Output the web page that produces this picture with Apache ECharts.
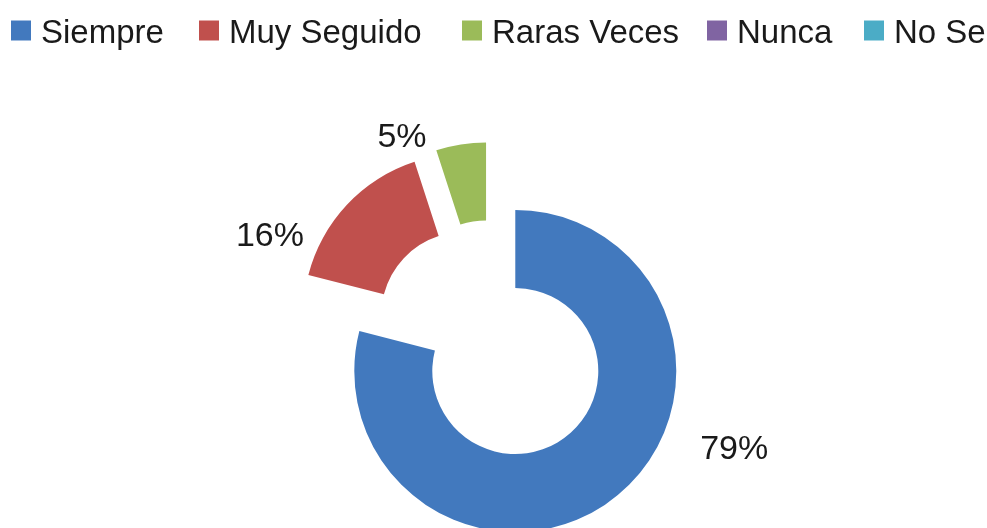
<!DOCTYPE html>
<html>
<head>
<meta charset="utf-8">
<script src="https://cdn.jsdelivr.net/npm/echarts@6/dist/echarts.min.js"></script>
<style>html,body{margin:0;padding:0;background:#fff}#c{width:987px;height:528px}</style>
</head>
<body>
<div id="c"></div>
<script>
const categories = ['Siempre', 'Muy Seguido', 'Raras Veces', 'Nunca', 'No Se'];
const values = [79, 16, 5, 0, 0];
const colors = ['#4279BE', '#C0504D', '#9BBB59', '#8064A2', '#4BACC6'];

// layout tweaks (not data)
const legendLefts = [11, 199, 462, 707, 864];
const labelShift = [[72, -60], [-27, 42], [-27, 8], [0, 0], [0, 0]];

const FONT = '"Liberation Sans", Arial, sans-serif';
const chart = echarts.init(document.getElementById('c'), null, {renderer: 'canvas'});

const legends = categories.map((name, i) => ({
  data: [name],
  left: legendLefts[i],
  top: 17,
  padding: 0,
  itemWidth: 20,
  itemHeight: 20,
  icon: 'rect',
  selectedMode: false,
  formatter: n => '{t|' + n + '}',
  textStyle: {
    fontFamily: FONT, fontSize: 33, color: '#1a1a1a',
    rich: {t: {fontFamily: FONT, fontSize: 33, color: '#1a1a1a', padding: [6, 0, 0, 5]}}
  }
}));

chart.setOption({
  animation: false,
  color: colors,
  legend: legends,
  series: [{
    type: 'pie',
    center: [492, 341],
    radius: [83, 161],
    startAngle: 90,
    clockwise: true,
    selectedMode: 'multiple',
    selectedOffset: 38,
    avoidLabelOverlap: false,
    emphasis: {disabled: true},
    label: {
      show: true,
      position: 'outside',
      fontFamily: FONT,
      fontSize: 34,
      color: '#1a1a1a',
      formatter: p => Math.round(p.percent) + '%'
    },
    labelLine: {show: false, length: 15, length2: 0},
    labelLayout: p => ({dx: labelShift[p.dataIndex][0], dy: labelShift[p.dataIndex][1]}),
    data: categories.map((name, i) => ({
      name,
      value: values[i],
      selected: values[i] > 0,
      label: {show: values[i] > 0}
    }))
  }]
});
</script>
</body>
</html>
